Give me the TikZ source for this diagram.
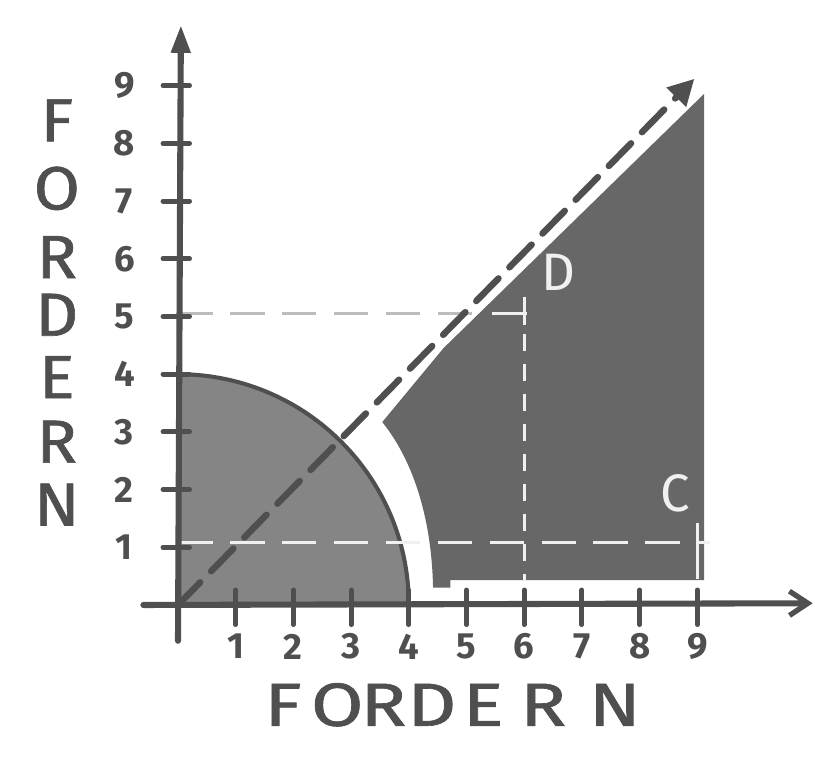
\documentclass[tikz,border=0pt]{standalone}
\usepackage{fontspec}
\setmainfont{Fira Sans}
\newfontface\handface{Fira Sans}[FakeBold=1.0]
\usetikzlibrary{arrows.meta}
\definecolor{ink}{HTML}{4F4F4F}
\definecolor{disc}{HTML}{858585}
\definecolor{region}{HTML}{676767}
\definecolor{faint}{HTML}{BDBDBD}
\definecolor{chalk}{HTML}{F0F0F0}
\newcommand{\widelt}[1]{\scalebox{1.25}[1]{#1}}
\newcommand{\midlt}[1]{\scalebox{1.1}[1]{#1}}
\begin{document}
\begin{tikzpicture}[x=1cm,y=1cm,
  axisline/.style={draw=ink, line width=3pt, line cap=round},
  tickline/.style={draw=ink, line width=2.4pt, line cap=round},
  diagline/.style={draw=ink, line width=3.2pt, line cap=round, dash pattern=on 0.55cm off 0.27cm},
  chalkdash/.style={draw=chalk, line width=1.6pt, dash pattern=on 0.6cm off 0.3cm},
  chalkvdash/.style={draw=chalk, line width=1.6pt, dash pattern=on 0.3cm off 0.22cm},
  faintdash/.style={draw=faint, line width=1.3pt, dash pattern=on 0.6cm off 0.3cm},
  chalkline/.style={draw=chalk, line width=1.6pt},
  num/.style={text=ink, font=\fontsize{18}{18}\selectfont\bfseries, inner sep=0pt},
  axlabel/.style={text=ink, font=\fontsize{30}{30}\handface, inner sep=0pt},
  ptlabel/.style={text=chalk, font=\fontsize{26}{26}\selectfont, inner sep=0pt}]
\useasboundingbox (-3.085,-2.634) rectangle (11.04,10.485);

% named points
\coordinate (O) at (0,0);
\coordinate (ybot) at (0,-0.62);
\coordinate (ytop) at (0.05,10.05);
\coordinate (xleft) at (-0.6,0);
\coordinate (xright) at (11.0,0.03);
\coordinate (dtip) at (8.95,9.12);

% quarter disc
\fill[disc] (O) -- (4,0) arc[start angle=0, end angle=90, radius=4] -- cycle;
\draw[ink, line width=2pt] (4,0) arc[start angle=0, end angle=90, radius=4];

% right region
\fill[region] (3.54,3.17) -- (4.6,4.45) -- (9.12,8.86) -- (9.12,0.43)
  -- (4.72,0.43) -- (4.72,0.30)
  -- (4.42,0.30) .. controls (4.40,1.40) and (4.12,2.45) .. (3.54,3.17) -- cycle;

% dashed helper lines
\draw[faintdash] (0,5.05) -- (5.2,5.05);
\draw[chalkdash] (5.45,5.05) -- (6.13,5.05);
\draw[chalkline] (6.0,5.34) -- (6.0,4.85);
\draw[chalkvdash] (6.0,4.7) -- (6.0,0.43);
\draw[chalkdash] (0,1.08) -- (9.22,1.08);
\draw[chalkline] (9.0,1.42) -- (9.0,0.45);

% axes
\draw[axisline, -{Triangle[length=4.8mm, width=3.2mm]}] (ybot) -- (ytop);
\draw[axisline, -{Straight Barb[length=3.2mm, width=4.2mm, line width=2.6pt]}] (xleft) -- (xright);

% ticks and numbers
\foreach \i in {1,...,9} {
  \draw[tickline] (\i,0.26) -- (\i,-0.34);
  \node[num] (xn\i) at (\i,-0.72) {\i};
  \draw[tickline] (-0.26,\i) -- (0.2,\i);
  \node[num] (yn\i) at (-0.93,\i) {\i};
}

% diagonal
\draw[diagline, -{Triangle[length=4.5mm, width=4.5mm]}] (O) -- (dtip);

% point labels
\node[ptlabel] (D) at (6.59,5.77) {D};
\node[ptlabel] (C) at (8.61,1.94) {C};

% axis labels
\node[axlabel] (hF)  at (1.82,-1.73) {\widelt{F}};
\node[axlabel] (hO)  at (2.76,-1.73) {\widelt{O}};
\node[axlabel] (hR1) at (3.56,-1.73) {\widelt{R}};
\node[axlabel] (hD)  at (4.40,-1.73) {\widelt{D}};
\node[axlabel] (hE)  at (5.29,-1.73) {\widelt{E}};
\node[axlabel] (hR2) at (6.33,-1.73) {\widelt{R}};
\node[axlabel] (hN)  at (7.57,-1.73) {\widelt{N}};

\node[axlabel] (vF)  at (-2.10,8.40) {\midlt{F}};
\node[axlabel] (vO)  at (-2.10,7.22) {\midlt{O}};
\node[axlabel] (vR1) at (-2.10,6.03) {\midlt{R}};
\node[axlabel] (vD)  at (-2.10,5.03) {\midlt{D}};
\node[axlabel] (vE)  at (-2.10,3.95) {\midlt{E}};
\node[axlabel] (vR2) at (-2.10,2.83) {\midlt{R}};
\node[axlabel] (vN)  at (-2.10,1.74) {\midlt{N}};
\end{tikzpicture}
\end{document}
